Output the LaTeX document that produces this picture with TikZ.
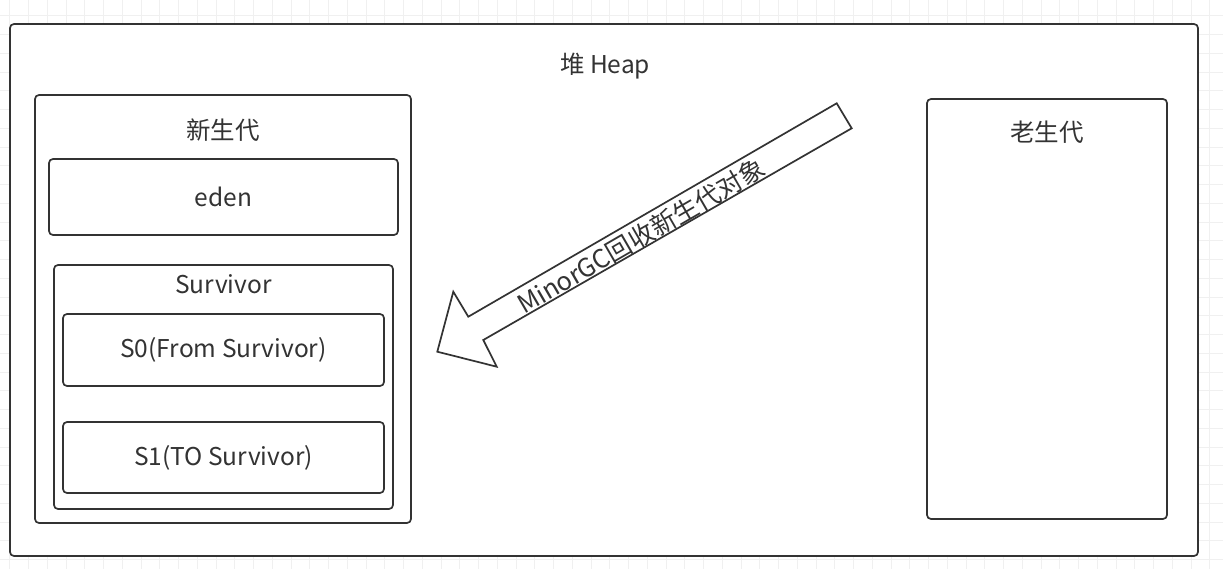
\documentclass[tikz,border=0pt]{standalone}
\usepackage{fontspec}
\setmainfont{Noto Sans CJK SC}
\definecolor{ink}{HTML}{333333}
\definecolor{gridc}{HTML}{F0F0F0}
\begin{document}
\begin{tikzpicture}[x=1pt,y=-1pt,
  box/.style={draw=ink,line width=1.7pt,rounded corners=4pt,fill=white,inner sep=0pt,outer sep=0pt},
  txt/.style={text=ink,font=\fontsize{24.5}{28}\selectfont,inner sep=0pt}]
\useasboundingbox (0,0) rectangle (1223,569);
\fill[white] (0,0) rectangle (1223,569);
\foreach \i in {0,...,66} {\draw[gridc,line width=0.6pt] (\i*18.75-9,0) -- (\i*18.75-9,569);}
\foreach \j in {0,...,31} {\draw[gridc,line width=0.6pt] (0,\j*18.75-3) -- (1223,\j*18.75-3);}
% containers
\node[box,minimum width=1188pt,minimum height=532pt] (heap) at (604,290) {};
\node[txt] (heapt) at (605,66) {堆 Heap};
\node[box,minimum width=376pt,minimum height=428pt] (young) at (223,309) {};
\node[txt] (youngt) at (223,130) {新生代};
\node[box,minimum width=349pt,minimum height=76pt] (eden) at (223.5,197) {};
\node[txt] at (eden.center) {eden};
\node[box,minimum width=339pt,minimum height=244pt] (surv) at (223.5,387) {};
\node[txt] (survt) at (223.5,284) {Survivor};
\node[box,minimum width=321pt,minimum height=72pt] (s0) at (223.5,350) {};
\node[txt] at (s0.center) {S0(From Survivor)};
\node[box,minimum width=321pt,minimum height=71pt] (s1) at (223.5,457.5) {};
\node[txt] at (s1.center) {S1(TO Survivor)};
\node[box,minimum width=240pt,minimum height=420pt] (old) at (1047,309) {};
\node[txt] (oldt) at (1047,132) {老生代};
% block arrow
\coordinate (a1) at (836.7,103.3);
\coordinate (a2) at (468.3,316.7);
\coordinate (a3) at (453.3,291.7);
\coordinate (tip) at (437.3,351.7);
\coordinate (a5) at (496.7,366.7);
\coordinate (a6) at (483.3,340);
\coordinate (a7) at (851.7,128.3);
\draw[ink,line width=1.7pt,fill=white,line join=miter] (a1) -- (a2) -- (a3) -- (tip) -- (a5) -- (a6) -- (a7) -- cycle;
\node[txt,font=\fontsize{25.5}{28}\selectfont,rotate=30.1] (gc) at (641,236) {MinorGC回收新生代对象};
\end{tikzpicture}
\end{document}
